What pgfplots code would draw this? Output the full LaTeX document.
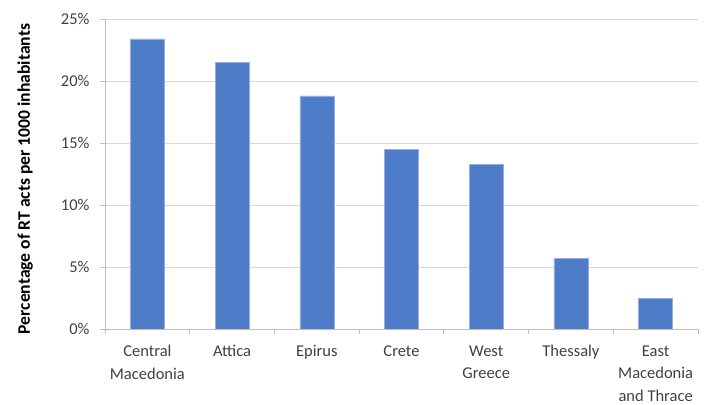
\documentclass[border=0pt]{standalone}
\usepackage{pgfplots}
\pgfplotsset{compat=1.18}
\usepackage{fontspec}
\setmainfont{Carlito}
\definecolor{barblue}{RGB}{78,124,200}
\definecolor{gridgray}{RGB}{217,217,217}
\definecolor{axisgray}{RGB}{191,191,191}
\definecolor{labelgray}{RGB}{64,64,64}
\begin{document}
\begin{tikzpicture}
\begin{axis}[
  scale only axis,
  width=593pt, height=310pt,
  xmin=-0.5, xmax=6.5,
  ymin=0, ymax=25,
  axis x line=bottom, axis y line=left,
  axis line style={-, draw=axisgray, line width=0.8pt},
  xtick={0,...,6},
  xticklabels={{Central\\Macedonia},{Attica},{Epirus},{Crete},{West\\Greece},{Thessaly},{East\\Macedonia\\and Thrace}},
  x tick label style={align=center, font=\fontsize{16.5}{22.5}\selectfont, text=labelgray, anchor=north, yshift=-8pt},
  major x tick style={draw=none},
  minor xtick={-0.5,0.5,...,6.5},
  minor x tick style={draw=axisgray, line width=0.8pt},
  minor tick length=5pt,
  ytick={0,5,...,25},
  yticklabel={\pgfmathprintnumber{\tick}\%},
  y tick label style={font=\fontsize{16.5}{20}\selectfont, text=labelgray, xshift=-7pt},
  y tick style={draw=axisgray, line width=0.8pt},
  major tick length=5pt,
  tick align=outside,
  /pgf/number format/assume math mode=true,
  ymajorgrids,
  grid style={draw=gridgray, line width=0.8pt},
  ylabel={\bfseries Percentage of RT acts per 1000 inhabitants},
  ylabel style={font=\fontsize{17.6}{20}\selectfont, inner sep=0pt,
    at={(axis description cs:0,0.5)}, anchor=south, rotate=0, yshift=72pt, xshift=-5pt},
  ybar, bar width=34pt,
]
\addplot[fill=barblue, draw=barblue!60!white, line width=0.5pt] coordinates {
  (0,23.4) (1,21.5) (2,18.8) (3,14.5) (4,13.3) (5,5.7) (6,2.45)
};
\end{axis}
\useasboundingbox (-105pt,-74pt) rectangle (602pt,329pt);
\end{tikzpicture}
\end{document}
